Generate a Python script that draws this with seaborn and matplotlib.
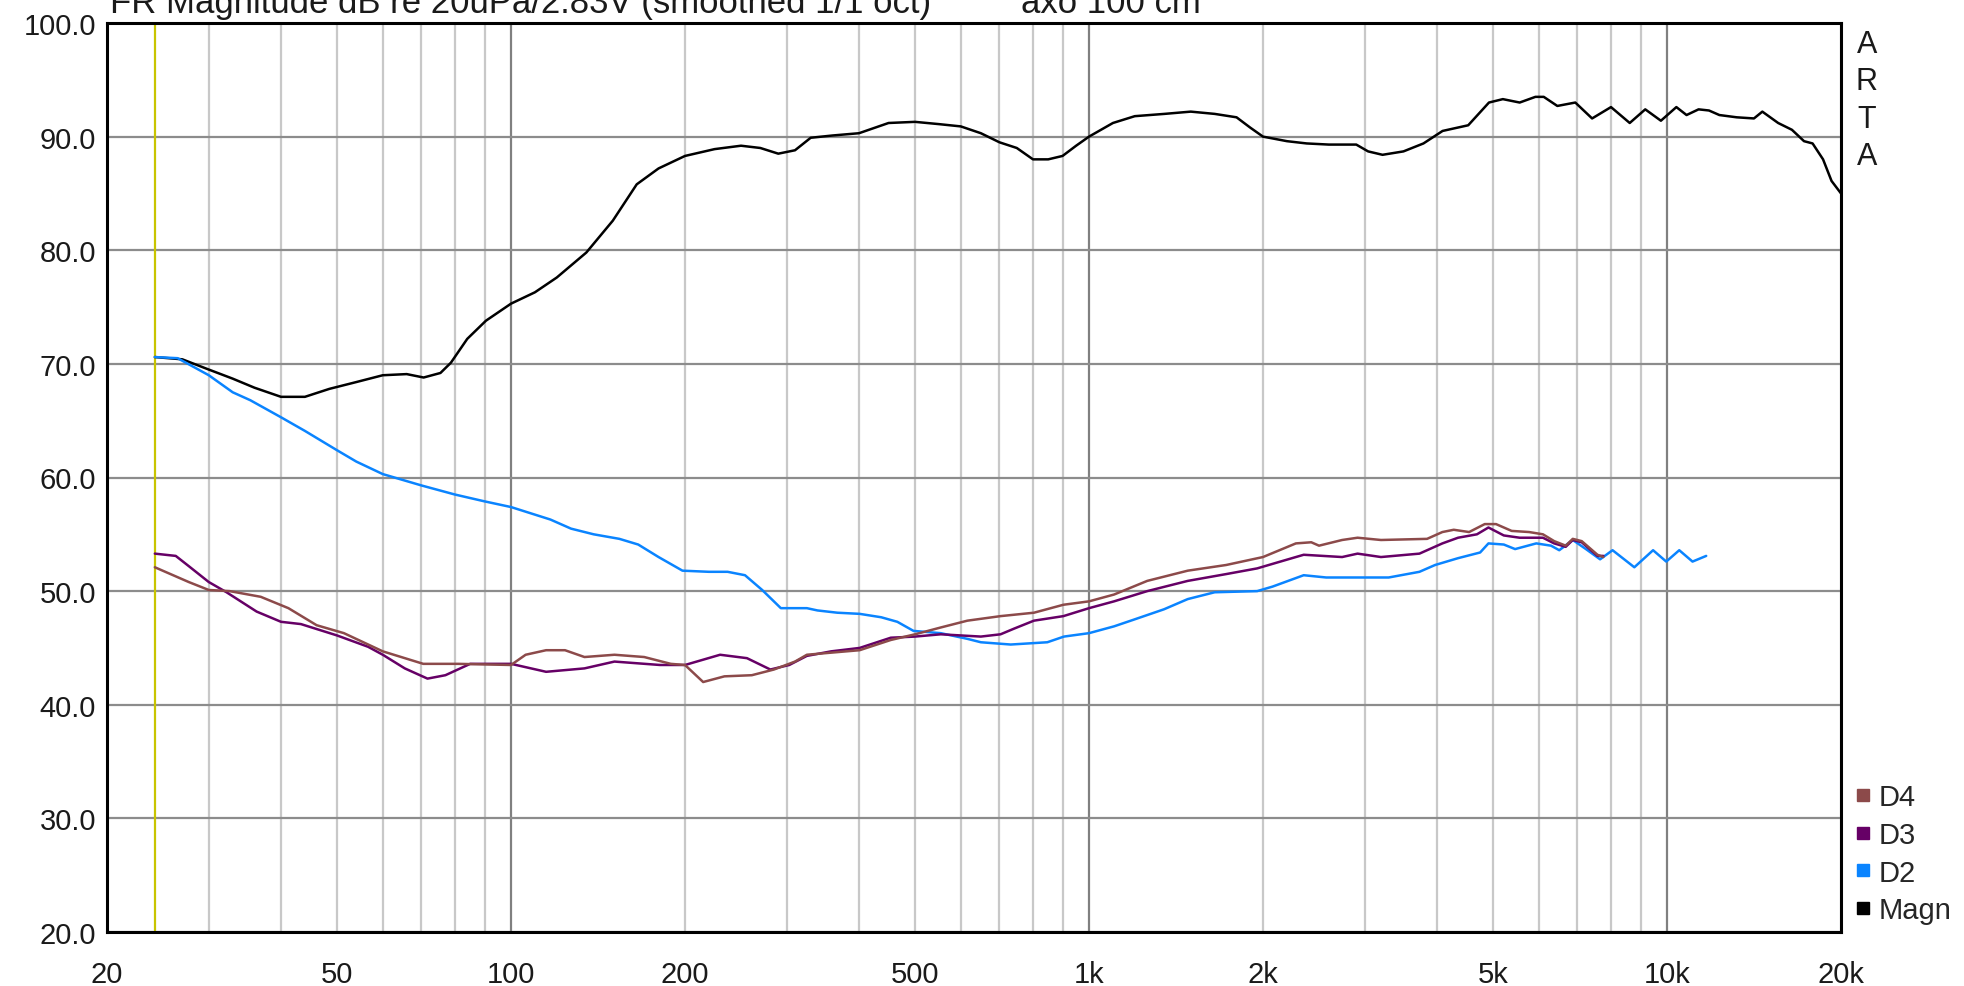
import numpy as np
import pandas as pd
import seaborn as sns
import matplotlib.pyplot as plt
from matplotlib.ticker import FixedLocator, FuncFormatter
from matplotlib.lines import Line2D

sns.set_style("white")
plt.rcParams['font.family'] = ['Liberation Sans', 'DejaVu Sans']

# frequency response curves (Hz, dB)
magn_f = [24.2, 27, 30, 33, 36, 40, 44, 48.5, 54, 60, 66, 70.6, 75.5, 78.7, 84, 90.5,
          100, 110, 120, 135, 150, 165, 180, 200, 225, 250, 270, 290, 310, 330, 360,
          400, 450, 500, 550, 600, 650, 700, 750, 800, 850, 900, 950, 1000, 1100, 1200,
          1350, 1500, 1650, 1800, 1900, 2000, 2200, 2380, 2600, 2900, 3040, 3220, 3500,
          3790, 4090, 4530, 4920, 5200, 5560, 5920, 6120, 6460, 6940, 7420, 8000, 8620,
          9170, 9760, 10380, 10810, 11340, 11820, 12320, 13200, 14140, 14620, 15570,
          16450, 17260, 17860, 18620, 19260, 20000]
magn_db = [70.6, 70.4, 69.5, 68.7, 67.9, 67.1, 67.1, 67.8, 68.4, 69.0, 69.1, 68.8, 69.2, 70.1, 72.2, 73.8,
           75.3, 76.3, 77.6, 79.8, 82.6, 85.8, 87.2, 88.3, 88.9, 89.2, 89.0, 88.5, 88.8, 89.9, 90.1,
           90.3, 91.2, 91.3, 91.1, 90.9, 90.3, 89.5, 89.0, 88.0, 88.0, 88.3, 89.2, 90.0, 91.2, 91.8,
           92.0, 92.2, 92.0, 91.7, 90.8, 90.0, 89.6, 89.4, 89.3, 89.3, 88.7, 88.4, 88.7,
           89.4, 90.5, 91.0, 93.0, 93.3, 93.0, 93.5, 93.5, 92.7, 93.0, 91.6, 92.6, 91.2,
           92.4, 91.4, 92.6, 91.9, 92.4, 92.3, 91.9, 91.7, 91.6, 92.2, 91.2,
           90.6, 89.6, 89.4, 88.0, 86.1, 85.0]

d2_f = [24.2, 26.5, 30, 33, 35.4, 40, 44, 50, 54, 60, 70, 80, 90, 100, 117, 127, 139, 154,
        166, 180, 198, 220, 237, 254, 272, 293, 325, 339, 367, 401, 437, 466, 497, 554,
        616, 650, 732, 847, 905, 1000, 1105, 1197, 1348, 1482, 1650, 1954, 2078, 2352,
        2573, 3300, 3730, 3970, 4350, 4750, 4910, 5220, 5460, 5940, 6300, 6510, 6870,
        7240, 7660, 8050, 8780, 9460, 9970, 10500, 11070, 11690]
d2_db = [70.6, 70.5, 69.0, 67.5, 66.8, 65.3, 64.1, 62.4, 61.4, 60.3, 59.3, 58.5, 57.9, 57.4, 56.3, 55.5, 55.0, 54.6,
         54.1, 53.0, 51.8, 51.7, 51.7, 51.4, 50.1, 48.5, 48.5, 48.3, 48.1, 48.0, 47.7, 47.3, 46.5, 46.3,
         45.8, 45.5, 45.3, 45.5, 46.0, 46.3, 46.9, 47.5, 48.4, 49.3, 49.9, 50.0, 50.4, 51.4,
         51.2, 51.2, 51.7, 52.3, 52.9, 53.4, 54.2, 54.1, 53.7, 54.2, 54.0, 53.6, 54.5,
         53.7, 52.8, 53.6, 52.1, 53.6, 52.6, 53.6, 52.6, 53.1]

d3_f = [24.2, 26.3, 27.7, 30, 32.2, 36.3, 40, 43.3, 50, 56.6, 60, 65.5, 71.7, 77, 85, 100,
        115, 134, 151, 181, 200, 230, 256, 281, 303, 325, 358, 401, 454, 500, 554, 650,
        703, 742, 803, 903, 1000, 1105, 1261, 1482, 1727, 1954, 2078, 2280, 2352, 2741,
        2915, 3200, 3730, 4087, 4350, 4690, 4910, 5220, 5560, 6100, 6380, 6680, 6870,
        7120, 7580, 7760]
d3_db = [53.3, 53.1, 52.2, 50.8, 49.9, 48.2, 47.3, 47.1, 46.1, 45.1, 44.4, 43.2, 42.3, 42.6, 43.6, 43.6,
         42.9, 43.2, 43.8, 43.5, 43.5, 44.4, 44.1, 43.1, 43.5, 44.3, 44.7, 45.0, 45.9, 46.0, 46.2, 46.0,
         46.2, 46.7, 47.4, 47.8, 48.5, 49.1, 50.0, 50.9, 51.5, 52.0, 52.4, 53.0, 53.2, 53.0,
         53.3, 53.0, 53.3, 54.2, 54.7, 55.0, 55.6, 54.9, 54.7, 54.7, 54.2, 53.9, 54.5,
         54.3, 53.1, 53.1]

d4_f = [24.2, 27.7, 30, 32.6, 36.9, 41.2, 46.1, 51.4, 60, 70.5, 81, 100, 106, 115, 124,
        134, 151, 170, 189, 200, 215, 234, 261, 285, 310, 325, 401, 454, 500, 554, 616,
        703, 803, 903, 1000, 1105, 1261, 1482, 1727, 2000, 2280, 2424, 2500, 2741, 2915,
        3200, 3845, 4087, 4276, 4546, 4838, 5060, 5385, 5774, 6100, 6380, 6680, 6870,
        7120, 7580, 7760]
d4_db = [52.1, 50.8, 50.1, 50.0, 49.5, 48.5, 47.0, 46.3, 44.7, 43.6, 43.6, 43.5, 44.4, 44.8, 44.8,
         44.2, 44.4, 44.2, 43.6, 43.5, 42.0, 42.5, 42.6, 43.1, 43.8, 44.4, 44.8, 45.7, 46.2, 46.8, 47.4,
         47.8, 48.1, 48.8, 49.1, 49.7, 50.9, 51.8, 52.3, 53.0, 54.2, 54.3, 54.0, 54.5, 54.7,
         54.5, 54.6, 55.2, 55.4, 55.2, 55.9, 55.9, 55.3, 55.2, 55.0, 54.4, 54.0, 54.6,
         54.4, 53.2, 53.0]

series_names = ["Magn", "D2", "D3", "D4"]
series_colors = {"Magn": "#000000", "D2": "#0a84ff", "D3": "#660066", "D4": "#8c4a4a"}
gate_freq = 24.2  # yellow marker line

x_tick_vals = [20, 50, 100, 200, 500, 1000, 2000, 5000, 10000, 20000]
x_tick_labels = ["20", "50", "100", "200", "500", "1k", "2k", "5k", "10k", "20k"]
y_ticks = [20, 30, 40, 50, 60, 70, 80, 90, 100]

frames = []
for name, f, db in [("Magn", magn_f, magn_db), ("D2", d2_f, d2_db),
                    ("D3", d3_f, d3_db), ("D4", d4_f, d4_db)]:
    frames.append(pd.DataFrame({"freq": f, "db": db, "curve": name}))
df = pd.concat(frames, ignore_index=True)

fig = plt.figure(figsize=(19.65, 9.87), dpi=100)
ax = fig.add_axes([107 / 1965, 1 - 933 / 987, (1841 - 107) / 1965, (933 - 24) / 987])

for name in series_names:
    sns.lineplot(data=df[df.curve == name], x="freq", y="db", color=series_colors[name],
                 lw=1.8, estimator=None, sort=False, ax=ax, legend=False, zorder=3)

ax.set_xscale("log")
ax.set_xlim(20, 20000)
ax.set_ylim(20, 100)

# grid: decades darker, other log lines light
decades = [100, 1000, 10000]
minor = [m * 10 ** e for e in range(1, 5) for m in range(2, 10) if 20 <= m * 10 ** e <= 20000]
ax.xaxis.set_major_locator(FixedLocator(decades))
ax.xaxis.set_minor_locator(FixedLocator(minor))
lab = dict(zip(x_tick_vals, x_tick_labels))
fmt = FuncFormatter(lambda v, p: lab.get(int(round(v)), ""))
ax.xaxis.set_major_formatter(fmt)
ax.xaxis.set_minor_formatter(fmt)
ax.grid(True, which="major", axis="x", color="#808080", lw=1.6, zorder=1)
ax.grid(True, which="minor", axis="x", color="#c8c8c8", lw=1.6, zorder=1)
ax.set_yticks(y_ticks)
ax.set_yticklabels([f"{v:.1f}" for v in y_ticks])
ax.grid(True, which="major", axis="y", color="#8c8c8c", lw=1.6, zorder=1)
ax.tick_params(axis="x", which="both", length=0, pad=20, labelsize=21, colors="#1a1a1a")
ax.tick_params(axis="y", length=0, pad=8, labelsize=21, colors="#1a1a1a")
ax.axvline(gate_freq, color="#c8c400", lw=1.6, zorder=2)

ax.set_xlabel("")
ax.set_ylabel("")
for s in ax.spines.values():
    s.set_color("#000000")
    s.set_linewidth(2.2)
    s.set_visible(True)

# header text, cut by the top edge like the original
fig.text(110 / 1965, 1 - 13 / 987, "FR Magnitude dB re 20uPa/2.83V (smoothed 1/1 oct)",
         fontsize=25, va="baseline", ha="left", color="#1a1a1a")
fig.text(1021 / 1965, 1 - 13 / 987, "axo 100 cm",
         fontsize=25, va="baseline", ha="left", color="#1a1a1a")

# ARTA logo letters
for i, ch in enumerate("ARTA"):
    fig.text(1867 / 1965, 1 - (45 + i * 37.5) / 987, ch, fontsize=22, ha="center",
             va="center", color="#1a1a1a")

handles = [Line2D([], [], marker="s", ls="", markersize=8, color=series_colors[n], label=n)
           for n in ["D4", "D3", "D2", "Magn"]]
ax.legend(handles=handles, loc="lower left", bbox_to_anchor=(0.9925, -0.014), frameon=False,
          fontsize=21, handletextpad=0.05, labelspacing=0.33, borderaxespad=0.3,
          handlelength=1.0)

fig.savefig("out.png", dpi=100)
